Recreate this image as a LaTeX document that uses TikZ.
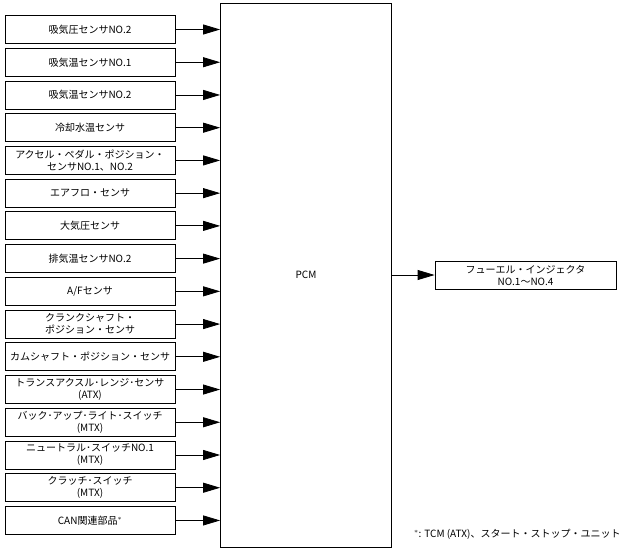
\documentclass[tikz,border=0pt]{standalone}
\usepackage{fontspec}
\setmainfont{Noto Sans CJK JP}
\usetikzlibrary{arrows.meta}

\begin{document}
\begin{tikzpicture}[x=1pt, y=-1pt, line width=0.8pt,
  font=\fontsize{10}{12}\selectfont,
  inbox/.style={draw, minimum width=170pt, minimum height=28pt, inner sep=1pt, align=center},
  sig/.style={-{Triangle[length=17pt, width=10pt]}}]
  \useasboundingbox (0,0) rectangle (626,552);

  % 制御ユニット
  \node[draw, minimum width=171pt, minimum height=544pt] (pcm) at (306,275) {PCM};

  % 入力
  \foreach \lbl [count=\i] in {%
      吸気圧センサNO.2,
      吸気温センサNO.1,
      吸気温センサNO.2,
      冷却水温センサ,
      アクセル・ペダル・ポジション・\\センサNO.1、NO.2,
      エアフロ・センサ,
      大気圧センサ,
      排気温センサNO.2,
      A/Fセンサ,
      クランクシャフト・\\ポジション・センサ,
      カムシャフト・ポジション・センサ,
      トランスアクスル･レンジ･センサ\\(ATX),
      バック･アップ･ライト･スイッチ\\(MTX),
      ニュートラル･スイッチNO.1\\(MTX),
      クラッチ･スイッチ\\(MTX),
      CAN関連部品$^{*}$}
  {
    \node[inbox] (in\i) at (90, 29.5+32.73*\i-32.73) {\lbl};
    \coordinate (t\i) at (pcm.west |- in\i);
    \draw[sig] (in\i.east) -- (t\i);
  }

  % 出力
  \node[inbox, minimum width=181pt] (inj) at (525.5,275) {フューエル・インジェクタ\\NO.1～NO.4};
  \draw[sig] (pcm.east |- inj) -- (inj.west);

  \node[anchor=east, inner sep=0pt] (note) at (621,534) {$^{*}$: TCM (ATX)、スタート・ストップ・ユニット};
\end{tikzpicture}
\end{document}
